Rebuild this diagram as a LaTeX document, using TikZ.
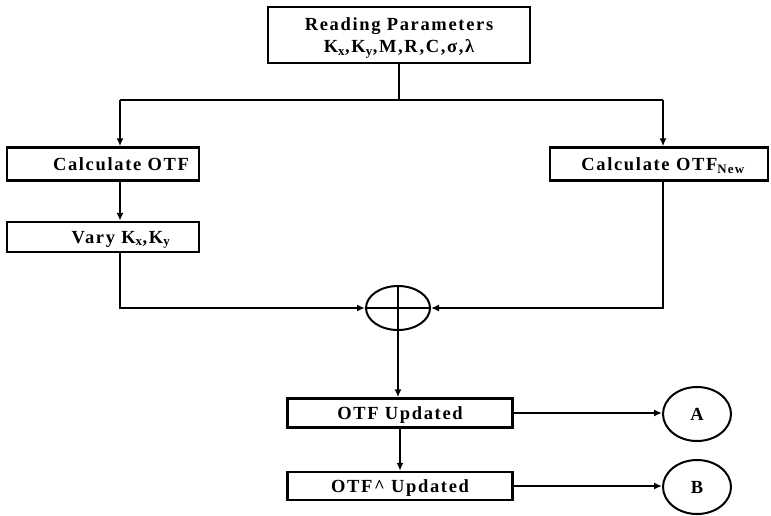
\documentclass[tikz,border=0pt]{standalone}
\usepackage{fontspec}
\setmainfont[LetterSpace=9]{Liberation Serif}
\usetikzlibrary{arrows.meta,shapes.geometric}
\begin{document}
\begin{tikzpicture}[x=1pt,y=-1pt,
  every node/.style={font=\bfseries\fontsize{18.5}{21}\selectfont},
  box/.style={draw, line width=2.5pt, inner sep=0pt, align=center, text depth=0pt},
  offtext/.style={label={[xshift=18pt, text depth=0pt]center:#1}},
  oval/.style={draw, ellipse, line width=2pt, inner sep=0pt},
  conn/.style={line width=2pt},
  arr/.style={conn, -{Latex[length=8pt,width=7pt]}}]
\useasboundingbox (0,0) rectangle (771,515);
\node[box, minimum width=262pt, minimum height=56pt] (top) at (399,35)
  {Reading Parameters\\[1pt]K\textsubscript{x},K\textsubscript{y},M,R,C,σ,λ};
\node[box, minimum width=192pt, minimum height=33pt, offtext={Calculate OTF}] (calc1) at (103,164) {};
\node[box, minimum width=192pt, minimum height=30pt, offtext={Vary K\textsubscript{x},K\textsubscript{y}}] (vary) at (103,237) {};
\node[box, minimum width=218pt, minimum height=33pt] (calc2) at (659,164) {\hspace{8pt}Calculate OTF\textsubscript{New}};
\node[oval, minimum width=64pt, minimum height=44pt] (sum) at (398,308) {};
\draw[conn] (sum.north) -- (sum.south) (sum.west) -- (sum.east);
\node[box, minimum width=225pt, minimum height=29pt] (upd) at (400,413) {OTF Updated};
\node[box, minimum width=225pt, minimum height=28pt] (upd2) at (400,486) {OTF\textasciicircum{} Updated};
\node[oval, minimum width=68pt, minimum height=54pt] (A) at (697,414) {A};
\node[oval, minimum width=68pt, minimum height=54pt] (B) at (697,487) {B};
\coordinate (jl) at (120,100);
\coordinate (jr) at (663,100);
\draw[conn] (top.south) -- (top.south |- jl);
\draw[conn] (jl) -- (jr);
\draw[arr] (jl) -- (jl |- calc1.north);
\draw[arr] (jr) -- (jr |- calc2.north);
\draw[arr] (calc1.south -| jl) -- (vary.north -| jl);
\draw[arr] (vary.south -| jl) |- (sum.west);
\draw[arr] (calc2.south -| jr) |- (sum.east);
\draw[arr] (sum.south) -- (sum.south |- upd.north);
\draw[arr] (upd.south) -- (upd2.north);
\draw[arr] (upd.east) -- (upd.east -| A.west);
\draw[arr] (upd2.east) -- (upd2.east -| B.west);
\end{tikzpicture}
\end{document}
